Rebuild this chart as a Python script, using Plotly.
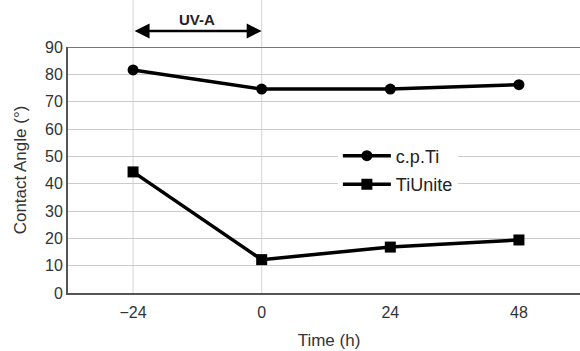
import plotly.graph_objects as go

time_h = [-24, 0, 24, 48]
cp_ti = [81.6, 74.6, 74.6, 76.2]
tiunite = [44.3, 12.2, 16.8, 19.4]
x_ticks = [-24, 0, 24, 48]
x_ticktext = ["\u221224", "0", "24", "48"]
y_ticks = [0, 10, 20, 30, 40, 50, 60, 70, 80, 90]

font = "Liberation Sans, Arial, sans-serif"

fig = go.Figure()
fig.add_trace(go.Scatter(x=time_h, y=cp_ti, name="c.p.Ti", mode="lines+markers",
                         legendgroup="a",
                         line=dict(color="black", width=3.5),
                         marker=dict(symbol="circle", size=11, color="black"),
                         cliponaxis=False))
fig.add_trace(go.Scatter(x=time_h, y=tiunite, name="TiUnite", mode="lines+markers",
                         legendgroup="b",
                         line=dict(color="black", width=3.5),
                         marker=dict(symbol="square", size=11, color="black"),
                         cliponaxis=False))

# UV-A vertical guide lines
for xv in [-24, 0]:
    fig.add_shape(type="line", xref="x", yref="paper", x0=xv, x1=xv, y0=0, y1=1.19,
                  line=dict(color="#d4d4d4", width=1), layer="below")
# top border line at 90
fig.add_shape(type="line", xref="paper", yref="y", x0=0, x1=1, y0=90, y1=90,
              line=dict(color="#777777", width=2), layer="below")

fig.add_annotation(x=0, y=1.065, xref="x", yref="paper", ax=-24, ay=0,
                   axref="x", ayref="pixel", showarrow=True, arrowside="end+start",
                   arrowhead=2, arrowsize=1.2, arrowwidth=2.5, arrowcolor="black", text="")
fig.add_annotation(x=-12, y=1.11, xref="x", yref="paper", text="<b>UV-A</b>",
                   showarrow=False, yanchor="middle",
                   font=dict(family=font, size=15, color="#222"))

fig.update_layout(
    width=590, height=351,
    margin=dict(l=68, r=0, t=47, b=58),
    paper_bgcolor="white", plot_bgcolor="white",
    font=dict(family=font, size=16, color="#333"),
    showlegend=True,
    legend=dict(x=0.517, y=0.632, xanchor="left", yanchor="top",
                bgcolor="white", font=dict(family=font, size=18, color="#222"),
                itemwidth=48, tracegroupgap=2),
    xaxis=dict(range=[-36.14, 61.26], tickvals=x_ticks, ticktext=x_ticktext,
               showgrid=False, zeroline=False, showline=True, linecolor="#555",
               linewidth=2, ticks="", ticklen=0, automargin=False, ticklabelstandoff=4,
               mirror=False,
               title=dict(text="Time (h)", font=dict(size=17, color="#333"), standoff=14)),
    yaxis=dict(range=[0, 90], tickvals=y_ticks, showgrid=True, gridcolor="#cccccc",
               gridwidth=1, zeroline=False, showline=True, linecolor="#555",
               linewidth=2, ticks="", automargin=False, mirror=False,
               title=dict(text="Contact Angle (°)", font=dict(size=17, color="#333"), standoff=14)),
)

fig.write_html("out.html", config={"displayModeBar": False},
               post_script="document.body.style.margin='0';document.body.style.overflow='hidden';")
